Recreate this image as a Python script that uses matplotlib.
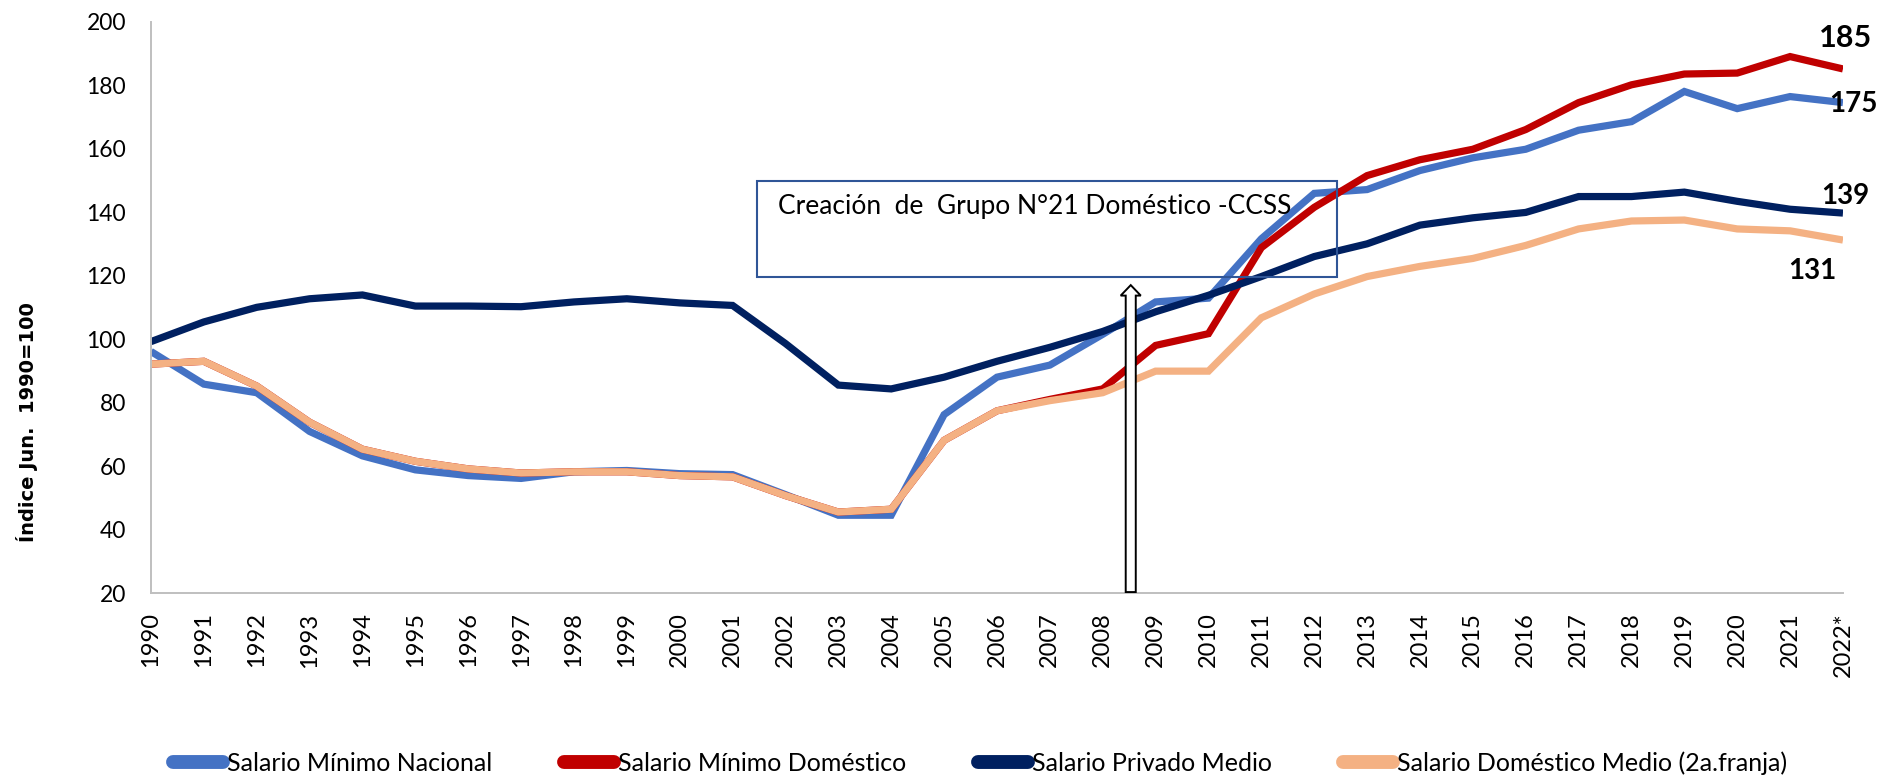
import matplotlib
matplotlib.use("Agg")
import matplotlib.pyplot as plt
import matplotlib.patches as mpatches
from matplotlib import font_manager as fm
from matplotlib.lines import Line2D

years = [str(y) for y in range(1990, 2022)] + ["2022*"]

sal_min_nac = [96.1, 85.8, 83.1, 70.9, 63.2, 58.8, 57.0, 56.1, 58.2, 58.6, 57.6, 57.3,
               51.0, 44.5, 44.5, 76.2, 88.0, 91.8, 101.5, 111.7, 112.9, 131.6, 145.9,
               147.1, 153.1, 157.1, 159.8, 165.8, 168.5, 178.0, 172.6, 176.4, 174.5]
sal_min_dom = [92.1, 93.0, 85.2, 73.8, 65.3, 61.5, 59.1, 57.8, 58.2, 58.2, 57.0, 56.6,
               50.7, 45.5, 46.4, 68.1, 77.4, 81.0, 84.3, 98.0, 101.7, 128.8, 141.5,
               151.5, 156.5, 159.8, 166.0, 174.5, 180.1, 183.5, 183.8, 189.0, 185.1]
sal_priv_medio = [99.2, 105.4, 110.0, 112.7, 113.9, 110.4, 110.4, 110.2, 111.7, 112.7, 111.4, 110.6,
                  98.6, 85.5, 84.3, 88.0, 93.0, 97.4, 102.4, 108.6, 113.8, 119.7, 126.0,
                  130.0, 135.9, 138.2, 139.9, 144.9, 144.9, 146.3, 143.4, 140.9, 139.7]
sal_dom_medio = [92.1, 93.0, 85.2, 73.8, 65.3, 61.5, 59.1, 57.8, 58.2, 58.2, 57.0, 56.6,
                 50.7, 45.5, 46.4, 68.1, 77.4, 80.6, 83.1, 89.9, 89.9, 106.7, 114.2,
                 119.7, 122.9, 125.4, 129.5, 134.7, 137.2, 137.5, 134.7, 134.1, 131.2]

series_names = ["Salario Mínimo Nacional", "Salario Mínimo Doméstico",
                "Salario Privado Medio", "Salario Doméstico Medio (2a.franja)"]
series_colors = ["#4472C4", "#C00000", "#002060", "#F4B183"]
end_labels = ["175", "185", "139", "131"]

annot_text = "Creación  de  Grupo N°21 Doméstico -CCSS"
y_label = "Índice Jun.  1990=100"

installed = {f.name for f in fm.fontManager.ttflist}
main_font = "Lato" if "Lato" in installed else "DejaVu Sans"
legend_font = "Liberation Sans Narrow" if "Liberation Sans Narrow" in installed else main_font

plt.rcParams["font.family"] = [main_font, "DejaVu Sans"]

fig = plt.figure(figsize=(18.8, 7.76), dpi=100)
ax = fig.add_axes([0.0803, 0.2358, 0.9000, 0.7363])

x = list(range(len(years)))
data = [sal_min_nac, sal_min_dom, sal_priv_medio, sal_dom_medio]
for vals, col, name in zip(data, series_colors, series_names):
    ax.plot(x, vals, color=col, lw=5.2, solid_joinstyle="miter", solid_capstyle="butt", label=name)

ax.set_xlim(0, len(years) - 1)
ax.set_ylim(20, 200)
ax.set_yticks(range(20, 201, 20))
ax.set_xticks(x)
ax.set_xticklabels(years, rotation=90, fontsize=17)
ax.tick_params(axis="y", labelsize=16.5, length=0, pad=18)
ax.tick_params(axis="x", length=0, pad=14)
for s in ["top", "right"]:
    ax.spines[s].set_visible(False)
for s in ["left", "bottom"]:
    ax.spines[s].set_color("#BFBFBF")
    ax.spines[s].set_linewidth(1.4)

fig.text(27 / 1880, 1 - 422 / 776, y_label, rotation=90, fontsize=14,
         family="DejaVu Sans", fontweight="bold", ha="center", va="center")

# annotation box
box = mpatches.Rectangle((11.46, 119.6), 22.44 - 11.46, 149.8 - 119.6, fill=False,
                         edgecolor="#2F5597", lw=1.5, zorder=5)
ax.add_patch(box)
ax.text(11.85, 141.9, annot_text, fontsize=19, va="center", ha="left", zorder=6)

# hollow arrow
arrow = mpatches.FancyArrow(18.53, 20.3, 0, 117.0 - 20.3, width=0.19, head_width=0.38,
                            head_length=3.3, length_includes_head=True,
                            facecolor="white", edgecolor="black", lw=1.4, zorder=6)
ax.add_patch(arrow)

# end labels
last = len(years) - 1
ax.text(last + 0.05, 194.7, end_labels[1], fontsize=22, fontweight="bold", ha="center", va="center")
ax.text(last + 0.19, 174.1, end_labels[0], fontsize=20, fontweight="bold", ha="center", va="center")
ax.text(last + 0.05, 145.1, end_labels[2], fontsize=20, fontweight="bold", ha="center", va="center")
ax.text(last - 0.58, 121.4, end_labels[3], fontsize=20, fontweight="bold", ha="center", va="center")

handles = [Line2D([0], [0], color=c, lw=10, solid_capstyle="round") for c in series_colors]
leg = fig.legend(handles, series_names, loc="center", bbox_to_anchor=(0.5215, 0.0165), ncol=4,
                 frameon=False, prop={"family": legend_font, "size": 18},
                 handlelength=2.0, handletextpad=0.15, columnspacing=2.87)

fig.savefig("out.png", dpi=100)
